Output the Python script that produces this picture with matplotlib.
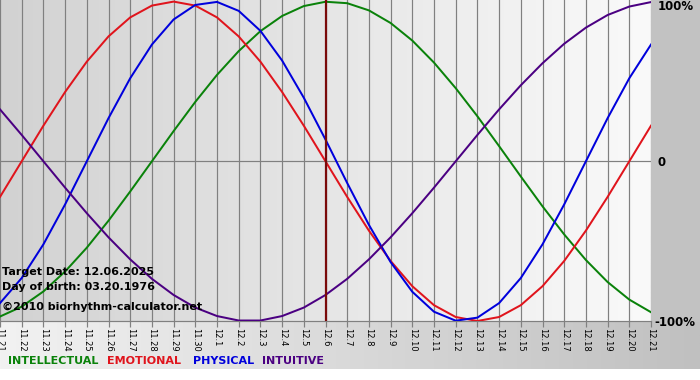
import numpy as np
import matplotlib
matplotlib.use('Agg')
from matplotlib import pyplot as plt
from matplotlib.colors import LinearSegmentedColormap

days = ['11.21', '11.22', '11.23', '11.24', '11.25', '11.26', '11.27', '11.28',
        '11.29', '11.30', '12.1', '12.2', '12.3', '12.4', '12.5', '12.6', '12.7',
        '12.8', '12.9', '12.10', '12.11', '12.12', '12.13', '12.14', '12.15',
        '12.16', '12.17', '12.18', '12.19', '12.20', '12.21']
target_idx = 15

# values, -1..1
physical = [-0.888, -0.731, -0.520, -0.270, 0.0, 0.270, 0.520, 0.731, 0.888, 0.979,
            0.998, 0.942, 0.817, 0.631, 0.398, 0.136, -0.136, -0.398, -0.631, -0.817,
            -0.942, -0.998, -0.979, -0.888, -0.731, -0.520, -0.270, 0.0, 0.270, 0.520,
            0.731]
emotional = [-0.223, 0.0, 0.223, 0.434, 0.624, 0.782, 0.901, 0.975, 1.0, 0.975,
             0.901, 0.782, 0.624, 0.434, 0.223, 0.0, -0.223, -0.434, -0.624, -0.782,
             -0.901, -0.975, -1.0, -0.975, -0.901, -0.782, -0.624, -0.434, -0.223, 0.0,
             0.223]
intellectual = [-0.972, -0.910, -0.815, -0.690, -0.541, -0.372, -0.189, 0.0, 0.189, 0.372,
                0.541, 0.690, 0.815, 0.910, 0.972, 0.999, 0.990, 0.945, 0.866, 0.756,
                0.618, 0.458, 0.282, 0.095, -0.095, -0.282, -0.458, -0.618, -0.756, -0.866,
                -0.945]
intuitive = [0.325, 0.165, 0.0, -0.165, -0.325, -0.476, -0.614, -0.736, -0.837, -0.916,
             -0.969, -0.997, -0.997, -0.969, -0.916, -0.837, -0.736, -0.614, -0.476, -0.325,
             -0.165, 0.0, 0.165, 0.325, 0.476, 0.614, 0.736, 0.837, 0.916, 0.969,
             0.997]

series = [('INTELLECTUAL', intellectual, '#0a820a'),
          ('EMOTIONAL', emotional, '#e0141c'),
          ('PHYSICAL', physical, '#0000dc'),
          ('INTUITIVE', intuitive, '#4b0082')]

W, H = 700, 380
PX = 0.72  # one pixel in points at dpi 100

fig = plt.figure(figsize=(W / 100, H / 100), dpi=100)
fig.patch.set_facecolor('white')

# background in pixel coordinates
bg = fig.add_axes([0, 0, 1, 1])
bg.set_xlim(0, W)
bg.set_ylim(H, 0)
bg.axis('off')
grad = np.linspace(0, 1, 256).reshape(1, -1)
bottom_cm = LinearSegmentedColormap.from_list('b', ['#f2f2f2', '#c0c0c0'])
bg.imshow(grad, cmap=bottom_cm, extent=(0, W, 369, 321), aspect='auto', zorder=0)
bg.add_patch(plt.Rectangle((651, 0), W - 651, 321, color='#c2c2c2', zorder=1))

# plot area
ax = fig.add_axes([0, (H - 321) / H, 651 / W, 321 / H])
n = len(days)
x = np.arange(n)
ax.set_xlim(0, n - 1)
ax.set_ylim(-1.0, 1.01)
area_cm = LinearSegmentedColormap.from_list('a', ['#d2d2d2', '#fafafa'])
ax.imshow(grad, cmap=area_cm, extent=(0, n - 1, -1.0, 1.01), aspect='auto', zorder=0)

for i in x:
    ax.axvline(i, color='#808080', lw=1.2 * PX, zorder=1)
ax.axhline(0, color='#808080', lw=1.2 * PX, zorder=1)

for name, vals, col in series:
    ax.plot(x, vals, color=col, lw=2 * PX, zorder=3, solid_joinstyle='round')

ax.axvline(target_idx, color='#7a0a0a', lw=2.2 * PX, zorder=4)

for s in ['top', 'left', 'right']:
    ax.spines[s].set_visible(False)
ax.spines['bottom'].set_color('#808080')
ax.spines['bottom'].set_linewidth(1.2 * PX)

ax.set_yticks([])
ax.set_xticks(x)
ax.set_xticklabels(days, rotation=-90, fontsize=6, color='black')
ax.tick_params(axis='x', length=4, width=1.2 * PX, color='#808080', pad=1)
for lbl in ax.get_xticklabels():
    lbl.set_va('top')
    lbl.set_ha('center')

def ftext(px, py, s, **kw):
    fig.text(px / W, 1 - py / H, s, **kw)

# right side percent labels
ftext(658, 7, '100%', fontsize=8.5, fontweight='bold', va='center')
ftext(658, 162, '0', fontsize=8.5, fontweight='bold', va='center')
ftext(654, 322, '-100%', fontsize=8.5, fontweight='bold', va='center')

# info text
ftext(2, 272, 'Target Date: 12.06.2025', fontsize=8, fontweight='bold', va='center')
ftext(2, 287, 'Day of birth: 03.20.1976', fontsize=8, fontweight='bold', va='center')
ftext(2, 307, '\u00a92010 biorhythm-calculator.net', fontsize=8, fontweight='bold', va='center')

# legend
leg_x = [8, 107, 193, 262]
for (name, vals, col), lx in zip(series, leg_x):
    ftext(lx, 361, name, fontsize=8, fontweight='bold', color=col, va='center')

fig.savefig('out.png', dpi=100)
